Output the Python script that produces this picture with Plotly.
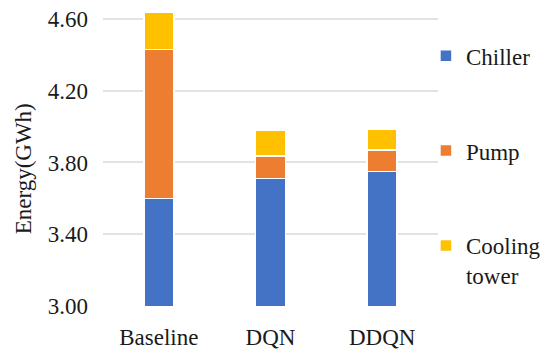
import plotly.graph_objects as go

categories = ["Baseline", "DQN", "DDQN"]
chiller = [3.60, 3.71, 3.75]
pump = [0.83, 0.125, 0.12]
cooling_tower = [0.21, 0.147, 0.117]
series_names = ["Chiller", "Pump", "Cooling<br>tower"]
colors = ["#4472C4", "#ED7D31", "#FFC000"]
tick_vals = [3.00, 3.40, 3.80, 4.20, 4.60]
tick_text = ["3.00", "3.40", "3.80", "4.20", "4.60"]

FONT = "Liberation Serif"

fig = go.Figure()
for name, vals, col in zip(series_names, [chiller, pump, cooling_tower], colors):
    fig.add_trace(go.Bar(
        x=categories, y=vals, name=name, legendgroup=name,
        marker=dict(color=col, line=dict(color="white", width=1.5)),
    ))

fig.update_layout(
    width=550, height=361,
    barmode="stack", bargap=0.73,
    plot_bgcolor="white", paper_bgcolor="white",
    margin=dict(l=102.5, r=112, t=1, b=55.3),
    font=dict(family=FONT, size=23, color="#1a1a1a"),
    showlegend=True,
    legend=dict(
        x=0.964, xanchor="left", y=0.891, yanchor="top",
        traceorder="grouped", tracegroupgap=62, valign="top",
        font=dict(family=FONT, size=23, color="#1a1a1a"),
        bgcolor="rgba(0,0,0,0)",
    ),
    xaxis=dict(showgrid=False, showline=False, ticks="", ticklabelstandoff=15,
               tickfont=dict(family=FONT, size=23)),
    yaxis=dict(range=[3.0, 4.70], tickvals=tick_vals, ticktext=tick_text,
               showgrid=True, gridcolor="#e3e3e3", gridwidth=1.5,
               zeroline=False, showline=False, ticks="", ticklabelstandoff=14,
               tickfont=dict(family=FONT, size=23)),
    annotations=[dict(text="Energy(GWh)", textangle=-90, xref="paper", yref="paper",
                      x=-0.237, y=0.45, xanchor="center", yanchor="middle",
                      showarrow=False,
                      font=dict(family=FONT, size=23, color="#1a1a1a"))],
)

fig.write_html("out.html",
               config={"displayModeBar": False},
               post_script="document.body.style.margin='0';")
